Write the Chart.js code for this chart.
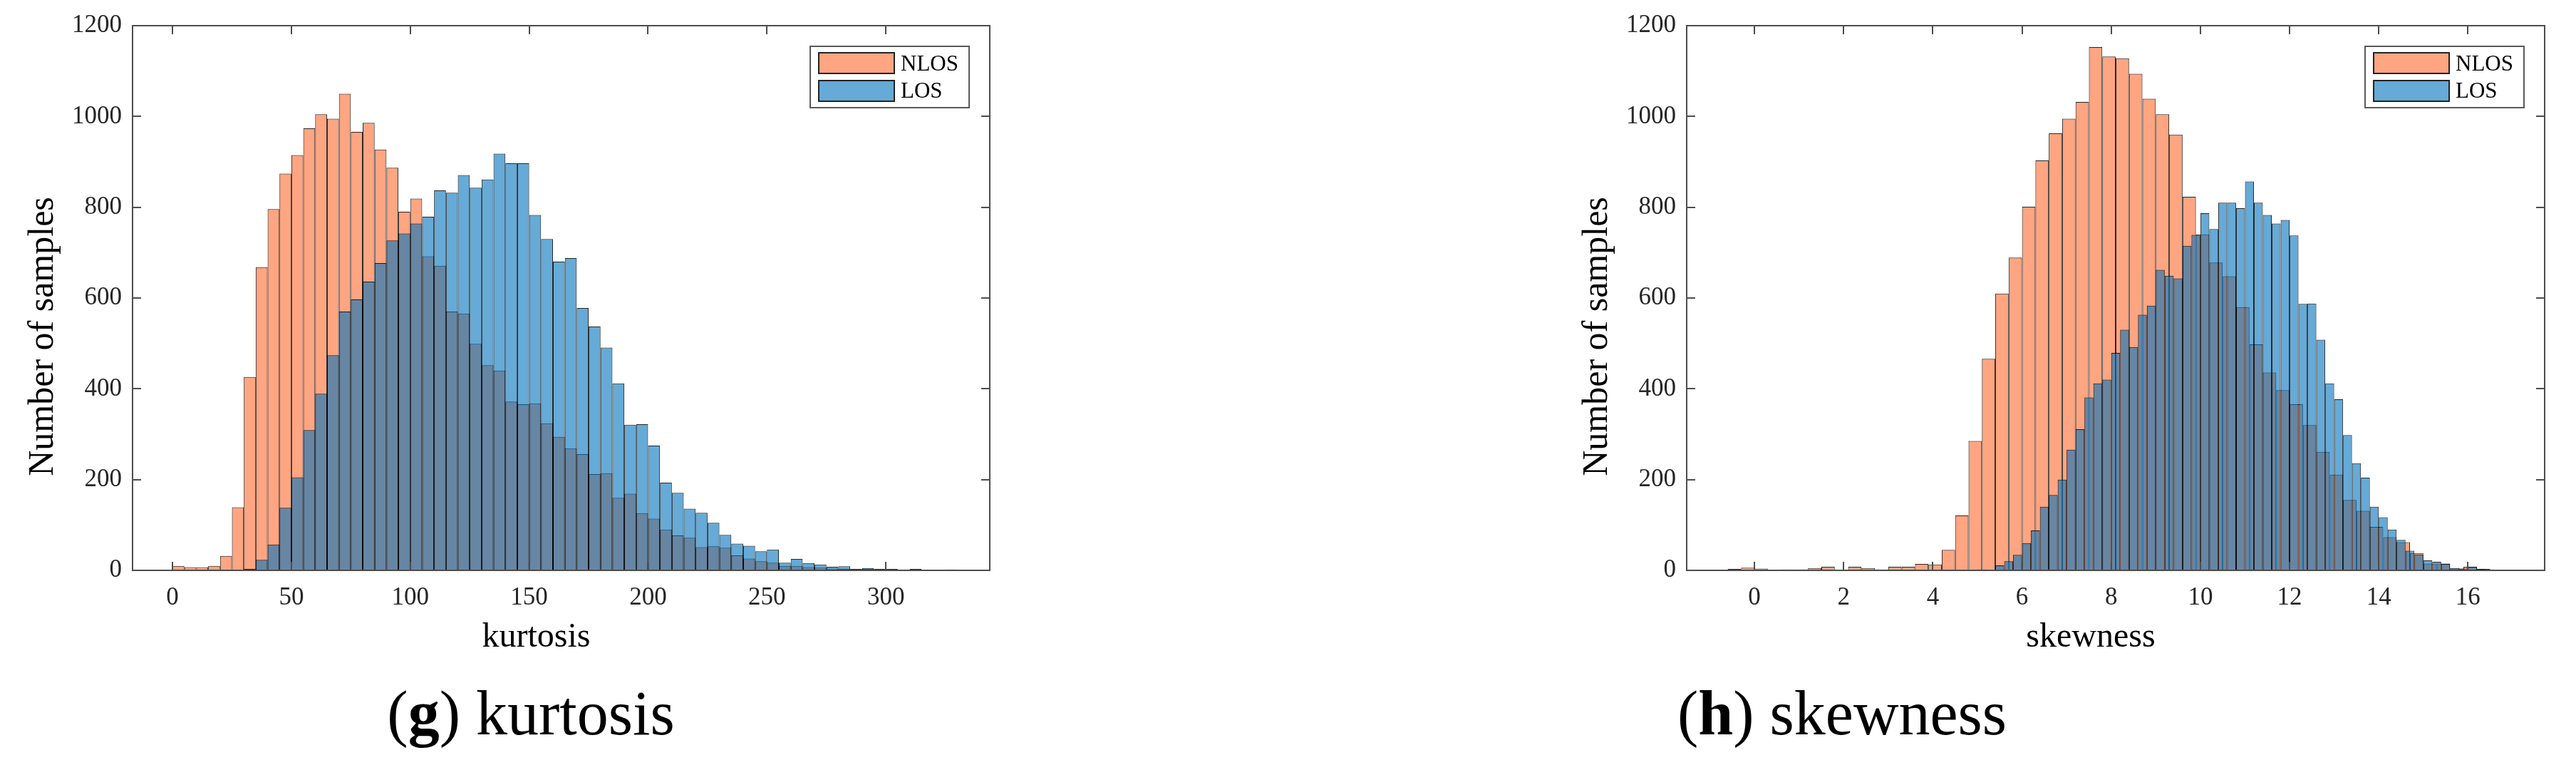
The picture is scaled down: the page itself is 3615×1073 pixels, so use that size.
<!DOCTYPE html>
<html>
<head>
<meta charset="utf-8">
<script src="https://cdn.jsdelivr.net/npm/chart.js@4.4.0/dist/chart.umd.min.js"></script>
<style>
  html, body { margin: 0; padding: 0; background: #fff; width: 3615px; height: 1073px; overflow: hidden; }
  .box { position: absolute; top: 0; height: 940px; }
  .cap { position: absolute; top: 957px; font-family: "Liberation Serif", "Times New Roman", serif; font-size: 88px; line-height: 88px; color: #000; white-space: nowrap; transform: translateX(-50%); }
</style>
</head>
<body>
<div class="box" style="left:0px;width:1440px"><canvas id="c1"></canvas></div>
<div class="box" style="left:2181px;width:1434px"><canvas id="c2"></canvas></div>
<div class="cap" style="left:745px">(<b>g</b>) kurtosis</div>
<div class="cap" style="left:2585px">(<b>h</b>) skewness</div>
<script>
// ---------- data ----------
const seriesLabels = ['NLOS', 'LOS'];
const yTicks = [0, 200, 400, 600, 800, 1000, 1200];

// kurtosis histogram: bins of width 5 starting at 0
const kurtBinStart = 0, kurtBinWidth = 5;
const kurtNLOS = [10, 7, 7, 10, 32, 139, 426, 668, 796, 874, 915, 974, 1005, 995, 1050, 966, 986, 927, 887, 790, 819,
  692, 671, 570, 566, 499, 452, 440, 372, 366, 368, 324, 294, 269, 256, 212, 214, 160, 169,
  126, 114, 90, 77, 72, 51, 53, 50, 33, 26, 20, 17,
  10, 10, 7, 6, 4, 3, 2, 3, 2, 1, 1, 1, 1, 1, 1];
const kurtLOS = [0, 0, 0, 0, 0, 0,
  3, 23, 57, 138, 205, 309, 389, 474, 570, 597, 636, 677, 727, 742, 764,
  779, 837, 832, 871, 843, 861, 918, 897, 897, 783, 730, 680, 688, 578, 537, 491, 412, 321,
  322, 275, 193, 171, 136, 127, 105, 78, 59, 54, 42, 46,
  17, 25, 16, 13, 8, 9, 3, 5, 3, 3, 2, 3, 1, 1, 2];
const kurtXTicks = [0, 50, 100, 150, 200, 250, 300];

// skewness histogram: NLOS bins of 0.3 from -0.6, LOS bins of 0.2 from 5.0
const skewNLOSStart = -0.6, skewNLOSWidth = 0.3;
const skewNLOS = [3, 6, 4, 1, 2, 2, 5, 8, 1, 8,
  5, 2, 8, 8, 14, 13, 45, 121, 285, 466,
  610, 689, 801, 903, 963, 995, 1032, 1153, 1132, 1128,
  1094, 1039, 1005, 960, 823, 740, 678, 648, 580, 498,
  436, 397, 366, 320, 261, 211, 155, 131, 96, 73,
  62, 38, 15, 15, 4, 8, 3, 1];
const skewLOSStart = 5.0, skewLOSWidth = 0.2;
const skewLOS = [2, 1, 11, 20, 34, 60, 88, 140, 166, 200,
  266, 311, 381, 412, 420, 479, 530, 492, 563, 583,
  662, 649, 643, 715, 739, 787, 752, 810, 810, 798,
  857, 810, 783, 764, 772, 738, 587, 588, 508, 412,
  377, 298, 236, 204, 140, 117, 90, 67, 43, 35,
  22, 19, 14, 5, 4, 8, 3, 2, 1];
const skewXTicks = [0, 2, 4, 6, 8, 10, 12, 14, 16];

// ---------- style ----------
const FONT = '"Liberation Serif", "Times New Roman", serif';
const NLOS_FILL = 'rgba(255,105,45,0.6)';
const LOS_FILL = 'rgba(0,114,189,0.6)';
const EDGE = 'rgba(0,0,0,0.85)';
const AXIS = '#4d4d4d';
const TICKTXT = '#262626';

function toBins(values, start, width) {
  return values.map((v, i) => ({ x: start + (i + 0.5) * width, y: v }));
}

const decor = {
  id: 'decor',
  afterDraw(chart, args, o) {
    const { ctx, chartArea: a, scales } = chart;
    ctx.save();
    // axes box
    ctx.strokeStyle = AXIS;
    ctx.lineWidth = 2;
    ctx.strokeRect(a.left, a.top, a.right - a.left, a.bottom - a.top);
    // inward ticks
    const tl = 12;
    ctx.beginPath();
    scales.x.ticks.forEach(t => {
      const px = Math.round(scales.x.getPixelForValue(t.value));
      ctx.moveTo(px, a.bottom); ctx.lineTo(px, a.bottom - tl);
      ctx.moveTo(px, a.top); ctx.lineTo(px, a.top + tl);
    });
    scales.y.ticks.forEach(t => {
      const py = Math.round(scales.y.getPixelForValue(t.value));
      ctx.moveTo(a.left, py); ctx.lineTo(a.left + tl, py);
      ctx.moveTo(a.right, py); ctx.lineTo(a.right - tl, py);
    });
    ctx.stroke();

    // legend
    const bw = 223, bh = 86;
    const bx = a.right - 29 - bw, by = a.top + 29;
    ctx.fillStyle = '#fff';
    ctx.fillRect(bx, by, bw, bh);
    ctx.strokeStyle = '#5a5a5a';
    ctx.lineWidth = 2;
    ctx.strokeRect(bx, by, bw, bh);
    const ds = chart.data.datasets;
    const rows = [{ y: by + 9, base: by + 34 }, { y: by + 48, base: by + 72 }];
    ds.forEach((d, i) => {
      const r = rows[i];
      ctx.fillStyle = '#fff';
      ctx.fillRect(bx + 12, r.y, 106, 29);
      ctx.fillStyle = d.backgroundColor;
      ctx.fillRect(bx + 12, r.y, 106, 29);
      ctx.strokeStyle = '#222';
      ctx.lineWidth = 2;
      ctx.strokeRect(bx + 12, r.y, 106, 29);
      ctx.fillStyle = '#000';
      ctx.font = '31px ' + FONT;
      ctx.textAlign = 'left';
      ctx.textBaseline = 'alphabetic';
      ctx.fillText(d.label, bx + 127, r.base);
    });

    // axis titles
    ctx.fillStyle = '#000';
    ctx.font = '48px ' + FONT;
    ctx.textAlign = 'center';
    ctx.textBaseline = 'middle';
    ctx.fillText(o.xTitle, (a.left + a.right) / 2 - 35, 894);
    ctx.save();
    ctx.translate(61, 472);
    ctx.rotate(-Math.PI / 2);
    ctx.font = '50px ' + FONT;
    ctx.fillText(o.yTitle, 0, 0);
    ctx.restore();
    ctx.restore();
  }
};

function makeChart(id, cfg) {
  const barCommon = {
    borderColor: EDGE, borderWidth: 1, borderSkipped: false, inflateAmount: 0,
    barPercentage: 1, categoryPercentage: 1, grouped: false
  };
  const xCommon = {
    type: 'linear', min: cfg.xMin, max: cfg.xMax, offset: false,
    grid: { display: false, drawTicks: false, offset: false },
    border: { display: false }
  };
  return new Chart(document.getElementById(id), {
    type: 'bar',
    data: {
      datasets: [
        Object.assign({ label: seriesLabels[0], data: toBins(cfg.nlos, cfg.nStart, cfg.nWidth),
          backgroundColor: NLOS_FILL, xAxisID: 'x', order: 2 }, barCommon),
        Object.assign({ label: seriesLabels[1], data: toBins(cfg.los, cfg.lStart, cfg.lWidth),
          backgroundColor: LOS_FILL, xAxisID: 'x2', order: 1 }, barCommon)
      ]
    },
    options: {
      responsive: true, maintainAspectRatio: false, animation: false, devicePixelRatio: 1,
      layout: { padding: { left: 0, top: 31, right: cfg.padRight, bottom: 0 }, autoPadding: false },
      plugins: {
        legend: { display: false }, tooltip: { enabled: false },
        decor: { xTitle: cfg.xTitle, yTitle: 'Number of samples' }
      },
      scales: {
        x: Object.assign({}, xCommon, {
          position: 'bottom',
          afterBuildTicks: s => { s.ticks = cfg.xTicks.map(v => ({ value: v })); },
          afterFit: s => { s.height = 140; },
          ticks: { font: { family: FONT, size: 35 }, color: TICKTXT, padding: 18, maxRotation: 0, autoSkip: false,
            callback: v => String(v) }
        }),
        x2: Object.assign({}, xCommon, { display: false, position: 'bottom' }),
        y: {
          type: 'linear', min: 0, max: 1200,
          afterBuildTicks: s => { s.ticks = yTicks.map(v => ({ value: v })); },
          afterFit: s => { s.width = 186; },
          grid: { display: false, drawTicks: false },
          border: { display: false },
          ticks: { font: { family: FONT, size: 35 }, color: TICKTXT, padding: 15, callback: v => String(v) }
        }
      }
    },
    plugins: [decor]
  });
}

makeChart('c1', {
  nlos: kurtNLOS, nStart: kurtBinStart, nWidth: kurtBinWidth,
  los: kurtLOS, lStart: kurtBinStart, lWidth: kurtBinWidth,
  xMin: -16.8, xMax: 343.7, xTicks: kurtXTicks, xTitle: 'kurtosis', padRight: 51
});
makeChart('c2', {
  nlos: skewNLOS, nStart: skewNLOSStart, nWidth: skewNLOSWidth,
  los: skewLOS, lStart: skewLOSStart, lWidth: skewLOSWidth,
  xMin: -1.52, xMax: 17.72, xTicks: skewXTicks, xTitle: 'skewness', padRight: 44
});
</script>
</body>
</html>
